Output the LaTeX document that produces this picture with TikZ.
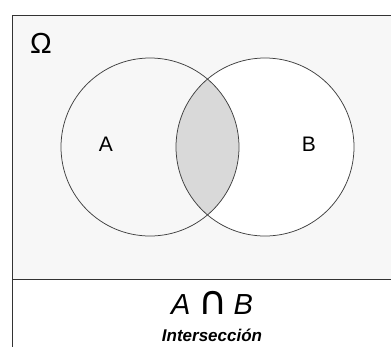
\documentclass[tikz,border=0pt]{standalone}
\usepackage{fontspec}
\setmainfont{Liberation Sans}
\newfontfamily\capfont{DejaVu Sans}
\begin{document}
\begin{tikzpicture}[x=1pt,y=-1pt,
  frame/.style={draw=black!80,line width=0.9pt},
  setline/.style={draw=black!75,line width=0.75pt},
  lbl/.style={font=\fontsize{21}{24}\selectfont,inner sep=0pt}]
\useasboundingbox (0,0) rectangle (391,346);
\fill[white] (0,0) rectangle (391,346);
% universe background
\fill[black!3] (12,15) rectangle (391,279);
% circle B interior white
\fill[white] (265,147) circle[radius=89];
% intersection
\begin{scope}
  \clip (150,147) circle[radius=89];
  \fill[black!15] (265,147) circle[radius=89];
\end{scope}
\draw[setline] (150,147) circle[radius=89];
\draw[setline] (265,147) circle[radius=89];
% frame
\draw[frame] (12,350) -- (12,15) -- (395,15);
\draw[frame] (12,279) -- (395,279);
\node[inner sep=0pt,font=\fontsize{29}{32}\selectfont] (om) at (41,43) {Ω};
\node[lbl] (a) at (106,144) {A};
\node[lbl] (b) at (309,144) {B};
\node[inner sep=0pt,anchor=base,font=\fontsize{29}{32}\selectfont] (ab) at (212,314) {\itshape A\hspace{8pt}{\upshape\capfont\fontsize{40}{44}\selectfont ∩}\hspace{6pt}B};
\node[inner sep=0pt,anchor=base,font=\bfseries\itshape\fontsize{17}{19}\selectfont] (int) at (212,341) {Intersección};
\end{tikzpicture}
\end{document}
